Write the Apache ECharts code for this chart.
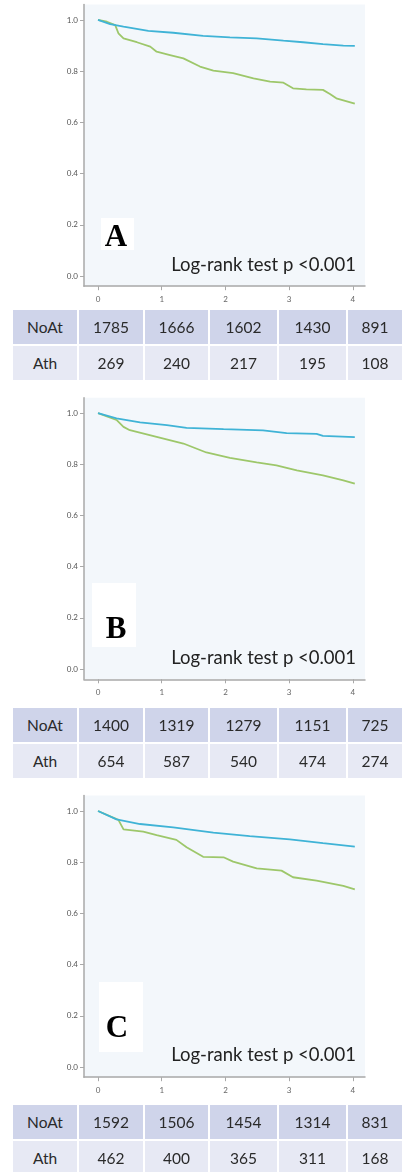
<!DOCTYPE html>
<html>
<head>
<meta charset="utf-8">
<script src="https://cdn.jsdelivr.net/npm/echarts@6/dist/echarts.min.js"></script>
<style>
  body { margin: 0; background: #fff; }
  #chart { position: absolute; left: 0; top: 0; width: 406px; height: 1172px; }
  .cell {
    position: absolute; display: flex; align-items: center; justify-content: center;
    font-family: Lato, sans-serif; font-size: 15.5px; color: #2a2a2a;
  }
</style>
</head>
<body>
<div id="chart"></div>
<script>
const panelLetters = ['A', 'B', 'C'];
const yearTicks = [0, 1, 2, 3, 4];
const survTicks = [0, 0.2, 0.4, 0.6, 0.8, 1.0];
const rowNames = ['NoAt', 'Ath'];
const pText = 'Log-rank test p <0.001';

// survival curves: [years, survival]
const blueA = [[0, 1.0], [0.19, 0.984], [0.4, 0.974], [0.79, 0.957], [1.18, 0.95], [1.65, 0.938], [2.07, 0.932],
  [2.49, 0.928], [2.91, 0.919], [3.22, 0.913], [3.53, 0.906], [3.85, 0.9], [4.03, 0.899]];
const greenA = [[0, 1.0], [0.14, 0.993], [0.27, 0.98], [0.32, 0.948], [0.4, 0.928], [0.61, 0.913], [0.82, 0.896],
  [0.92, 0.876], [1.13, 0.863], [1.34, 0.85], [1.6, 0.818], [1.81, 0.802], [2.12, 0.792], [2.44, 0.772],
  [2.7, 0.759], [2.91, 0.755], [3.06, 0.733], [3.27, 0.729], [3.53, 0.727], [3.64, 0.711], [3.74, 0.694], [4.03, 0.673]];
const blueB = [[0, 1.0], [0.29, 0.979], [0.66, 0.964], [1.08, 0.953], [1.39, 0.942], [1.97, 0.937], [2.59, 0.932],
  [2.96, 0.922], [3.43, 0.919], [3.53, 0.911], [4.03, 0.906]];
const greenB = [[0, 1.0], [0.29, 0.973], [0.4, 0.946], [0.5, 0.933], [0.92, 0.907], [1.34, 0.881], [1.7, 0.846],
  [2.07, 0.825], [2.49, 0.807], [2.8, 0.796], [3.12, 0.776], [3.53, 0.757], [3.85, 0.737], [4.03, 0.724]];
const blueC = [[0, 1.0], [0.29, 0.967], [0.66, 0.949], [1.18, 0.936], [1.81, 0.915], [2.38, 0.902], [3.01, 0.889],
  [3.53, 0.874], [4.03, 0.861]];
const greenC = [[0, 1.0], [0.32, 0.965], [0.4, 0.928], [0.71, 0.919], [0.92, 0.906], [1.23, 0.887], [1.39, 0.858],
  [1.65, 0.821], [1.97, 0.819], [2.12, 0.802], [2.49, 0.776], [2.88, 0.767], [3.06, 0.741], [3.43, 0.728],
  [3.85, 0.707], [4.03, 0.694]];

// numbers at risk
const noAtA = [1785, 1666, 1602, 1430, 891];
const athA = [269, 240, 217, 195, 108];
const noAtB = [1400, 1319, 1279, 1151, 725];
const athB = [654, 587, 540, 474, 274];
const noAtC = [1592, 1506, 1454, 1314, 831];
const athC = [462, 400, 365, 311, 168];

const BLUE = '#3fb3d6';
const GREEN = '#9dc76a';

const panels = [
  { blue: blueA, green: greenA, noAt: noAtA, ath: athA, top: 4.6, tableTop: 310,
    box: [101, 218, 33, 32], letter: [116, 238], pY: 275 },
  { blue: blueB, green: greenB, noAt: noAtB, ath: athB, top: 397.7, tableTop: 708,
    box: [92, 583, 44, 64], letter: [116, 630], pY: 668 },
  { blue: blueC, green: greenC, noAt: noAtC, ath: athC, top: 795.6, tableTop: 1105,
    box: [99, 982, 44, 70], letter: [117, 1029], pY: 1065 }
];

const chart = echarts.init(document.getElementById('chart'), null, { renderer: 'canvas' });

const grids = [], xAxes = [], yAxes = [], series = [], graphics = [];
panels.forEach((p, i) => {
  grids.push({ left: 84, top: p.top, width: 281, height: 281.6, show: true,
    backgroundColor: '#f3f7fb', borderWidth: 0 });
  xAxes.push({
    type: 'value', gridIndex: i, min: -0.22, max: 4.19,
    axisLine: { onZero: false, lineStyle: { color: '#a9a9a9', width: 1.5 } },
    axisTick: { show: true, length: 4, customValues: yearTicks, lineStyle: { color: '#a9a9a9' } },
    axisLabel: { customValues: yearTicks, fontSize: 8, color: '#666', margin: 9, fontFamily: 'Lato' },
    splitLine: { show: false }
  });
  yAxes.push({
    type: 'value', gridIndex: i, min: -0.04, max: 1.06,
    axisLine: { show: true, onZero: false, lineStyle: { color: '#a9a9a9', width: 1.5 } },
    axisTick: { show: true, length: 4, customValues: survTicks, lineStyle: { color: '#a9a9a9' } },
    axisLabel: { customValues: survTicks, fontSize: 8, color: '#555', margin: 6, fontFamily: 'Lato',
      formatter: v => v.toFixed(1) },
    splitLine: { show: false }
  });
  series.push({ type: 'line', xAxisIndex: i, yAxisIndex: i, data: p.blue, showSymbol: false,
    lineStyle: { color: BLUE, width: 1.8 }, z: 3 });
  series.push({ type: 'line', xAxisIndex: i, yAxisIndex: i, data: p.green, showSymbol: false,
    lineStyle: { color: GREEN, width: 1.8 }, z: 2 });

  graphics.push({ type: 'rect', shape: { x: p.box[0], y: p.box[1], width: p.box[2], height: p.box[3] },
    style: { fill: '#fff' }, z: 10 });
  graphics.push({ type: 'text', x: p.letter[0], y: p.letter[1], z: 11,
    style: { text: panelLetters[i], font: 'bold 31px "Liberation Serif"', fill: '#000',
      textAlign: 'center', textVerticalAlign: 'middle' } });
  graphics.push({ type: 'text', x: 356, y: p.pY, z: 11,
    style: { text: pText, font: '18.5px Lato', fill: '#222', textAlign: 'right', textVerticalAlign: 'bottom' } });
});

chart.setOption({
  animation: false,
  grid: grids,
  xAxis: xAxes,
  yAxis: yAxes,
  series: series,
  graphic: graphics
});

// at-risk tables under each plot
const colEdges = [[13, 77], [79, 143], [145, 208], [210, 277], [279, 346], [348, 402]];
const rowColors = ['#cfd4ea', '#e7e9f4'];
panels.forEach(p => {
  [p.noAt, p.ath].forEach((vals, r) => {
    const cells = [rowNames[r]].concat(vals);
    cells.forEach((txt, c) => {
      const d = document.createElement('div');
      d.className = 'cell';
      d.style.left = colEdges[c][0] + 'px';
      d.style.width = (colEdges[c][1] - colEdges[c][0]) + 'px';
      d.style.top = (p.tableTop + r * 36) + 'px';
      d.style.height = '34px';
      d.style.background = rowColors[r];
      d.textContent = txt;
      document.body.appendChild(d);
    });
  });
});
</script>
</body>
</html>
